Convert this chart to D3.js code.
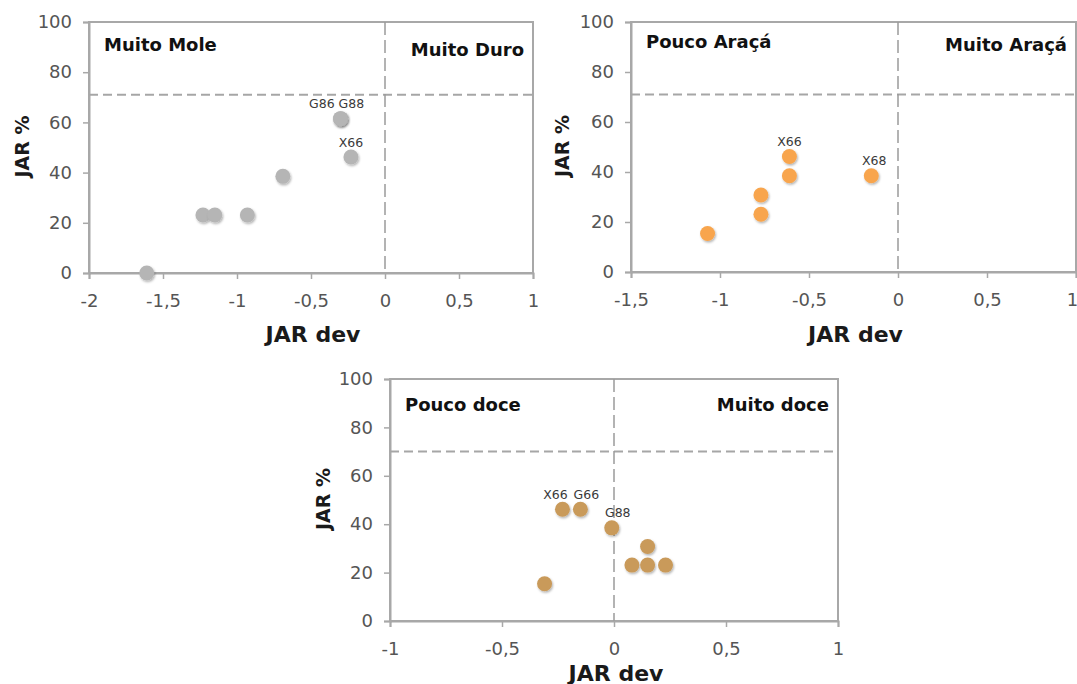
<!DOCTYPE html>
<html>
<head>
<meta charset="utf-8">
<script src="https://cdn.jsdelivr.net/npm/d3@7"></script>
<style>
  body { margin: 0; background: #fff; }
  svg { display: block; }
  .tick text { font-family: "DejaVu Sans", sans-serif; font-size: 18px; fill: #555; }
</style>
</head>
<body>
<svg id="chart" width="1077" height="684"></svg>
<script>
// values (JAR % steps of 1/13 panelists)
var hardDev = [-1.61, -1.23, -1.15, -0.93, -0.69, -0.30, -0.30, -0.23];
var hardJar = [0, 23.1, 23.1, 23.1, 38.5, 61.5, 61.5, 46.2];
var hardLab = ["", "", "", "", "", "G86 G88", "", "X66"];

var aracaDev = [-1.07, -0.77, -0.77, -0.61, -0.61, -0.15];
var aracaJar = [15.4, 23.1, 30.8, 38.5, 46.2, 38.5];
var aracaLab = ["", "", "", "", "X66", "X68"];

var doceDev = [-0.31, -0.23, -0.15, -0.01, 0.08, 0.15, 0.15, 0.23];
var doceJar = [15.4, 46.2, 46.2, 38.5, 23.1, 30.8, 23.1, 23.1];
var doceLab = ["", "X66", "G66", "G88", "", "", "", ""];

var quadLeft = ["Muito Mole", "Pouco Araçá", "Pouco doce"];
var quadRight = ["Muito Duro", "Muito Araçá", "Muito doce"];
var xDomains = [[-2, 1], [-1.5, 1], [-1, 1]];
var xTicks = [
  [-2, -1.5, -1, -0.5, 0, 0.5, 1],
  [-1.5, -1, -0.5, 0, 0.5, 1],
  [-1, -0.5, 0, 0.5, 1]
];
var yTicks = [0, 20, 40, 60, 80, 100];
var jarLimit = [71, 71, 70];
var dotColors = ["#b5b5b5", "#f8a54d", "#c99a5a"];

// panel boxes on the page
var boxes = [
  { left: 89, right: 533, top: 22, bottom: 273, titleX: 22, devY: 334, qL: 22, qR: 27 },
  { left: 631, right: 1076, top: 22, bottom: 272, titleX: 562, devY: 334, qL: 19, qR: 22 },
  { left: 390, right: 838, top: 379, bottom: 621, titleX: 323, devY: 673, qL: 25, qR: 25 }
];
// small nudges so side-by-side labels don't overlap
var labNudge = { "G86 G88": -4, "X68": 3, "X66|2": -7, "G66": 6, "G88": 6 };

var loc = d3.formatLocale({ decimal: ",", thousands: ".", grouping: [3], currency: ["", ""], minus: "-" });
var fmt = loc.format("~g");

var svg = d3.select("#chart");
svg.append("rect").attr("width", 1077).attr("height", 684).attr("fill", "#fff");

var defs = svg.append("defs");
var f = defs.append("filter").attr("id", "shadow").attr("x", "-50%").attr("y", "-50%").attr("width", "200%").attr("height", "200%");
f.append("feDropShadow").attr("dx", 1).attr("dy", 1.5).attr("stdDeviation", 1.2)
  .attr("flood-color", "#000").attr("flood-opacity", 0.3);

var sets = [
  { dev: hardDev, jar: hardJar, lab: hardLab },
  { dev: aracaDev, jar: aracaJar, lab: aracaLab },
  { dev: doceDev, jar: doceJar, lab: doceLab }
];

sets.forEach(function (s, i) {
  var b = boxes[i];
  var x = d3.scaleLinear().domain(xDomains[i]).range([b.left, b.right]);
  var y = d3.scaleLinear().domain([0, 100]).range([b.bottom, b.top]);
  var g = svg.append("g").attr("class", "panel" + i);

  // frame
  g.append("rect")
    .attr("x", b.left).attr("y", b.top)
    .attr("width", b.right - b.left).attr("height", b.bottom - b.top)
    .attr("fill", "none").attr("stroke", "#a8a8a8").attr("stroke-width", 2);

  var xAxis = g.append("g").attr("transform", "translate(0," + b.bottom + ")")
    .call(d3.axisBottom(x).tickValues(xTicks[i]).tickFormat(fmt).tickSize(6).tickPadding(15));
  var yAxis = g.append("g").attr("transform", "translate(" + b.left + ",0)")
    .call(d3.axisLeft(y).tickValues(yTicks).tickSize(6).tickPadding(11));
  [xAxis, yAxis].forEach(function (a) {
    a.select(".domain").attr("stroke", "#a8a8a8").attr("stroke-width", 2);
    a.selectAll(".tick line").attr("stroke", "#a8a8a8").attr("stroke-width", 1.5);
    a.attr("font-family", null).attr("font-size", null);
  });
  // keep the last x label inside the page edge
  if (b.right > 1070) {
    xAxis.selectAll(".tick text").filter(function (d) { return d == 1; }).attr("dx", -4);
  }

  // reference lines
  g.append("line")
    .attr("x1", b.left).attr("x2", b.right)
    .attr("y1", y(jarLimit[i])).attr("y2", y(jarLimit[i]))
    .attr("stroke", "#a6a6a6").attr("stroke-width", 2).attr("stroke-dasharray", "9,5");
  g.append("line")
    .attr("x1", x(0)).attr("x2", x(0))
    .attr("y1", b.top).attr("y2", b.bottom)
    .attr("stroke", "#9a9a9a").attr("stroke-width", 1.5).attr("stroke-dasharray", "13,5");

  // quadrant labels
  g.append("text").text(quadLeft[i])
    .attr("x", b.left + 15).attr("y", b.top + b.qL)
    .attr("dominant-baseline", "central")
    .attr("font-family", "DejaVu Sans").attr("font-weight", "bold").attr("font-size", 18).attr("fill", "#111");
  g.append("text").text(quadRight[i])
    .attr("x", b.right - 9).attr("y", b.top + b.qR)
    .attr("text-anchor", "end").attr("dominant-baseline", "central")
    .attr("font-family", "DejaVu Sans").attr("font-weight", "bold").attr("font-size", 18).attr("fill", "#111");

  // axis titles
  g.append("text").text("JAR dev")
    .attr("x", (b.left + b.right) / 2 + 2).attr("y", b.devY)
    .attr("text-anchor", "middle").attr("dominant-baseline", "central")
    .attr("font-family", "DejaVu Sans").attr("font-weight", "bold").attr("font-size", 22).attr("fill", "#1a1a1a");
  var cy = (b.top + b.bottom) / 2 - 1;
  g.append("text").text("JAR %")
    .attr("transform", "translate(" + b.titleX + "," + cy + ") rotate(-90)")
    .attr("text-anchor", "middle").attr("dominant-baseline", "central")
    .attr("font-family", "DejaVu Sans").attr("font-weight", "bold").attr("font-size", 19).attr("fill", "#1a1a1a");

  // points
  var pts = s.dev.map(function (d, k) { return { dev: d, jar: s.jar[k], lab: s.lab[k] }; });
  g.append("g").selectAll("circle").data(pts).enter().append("circle")
    .attr("cx", function (d) { return x(d.dev); })
    .attr("cy", function (d) { return y(d.jar); })
    .attr("r", 7.5)
    .attr("fill", dotColors[i])
    .attr("filter", "url(#shadow)");

  g.append("g").selectAll("text").data(pts.filter(function (d) { return d.lab; })).enter().append("text")
    .text(function (d) { return d.lab; })
    .attr("x", function (d) {
      var n = labNudge[d.lab + "|" + i];
      if (n === undefined) n = labNudge[d.lab] || 0;
      if (d.lab == "X66" && i != 2) n = 0;
      return x(d.dev) + n;
    })
    .attr("y", function (d) { return y(d.jar) - 15; })
    .attr("text-anchor", "middle").attr("dominant-baseline", "central")
    .attr("font-family", "DejaVu Sans").attr("font-size", 12.5).attr("fill", "#3a3a3a");
});
</script>
</body>
</html>
